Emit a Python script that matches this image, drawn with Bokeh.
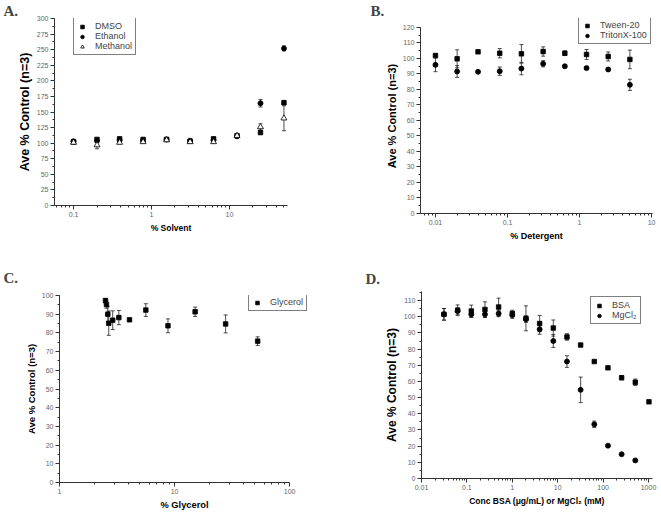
from bokeh.plotting import figure
from bokeh.models import (ColumnDataSource, Whisker, TeeHead, Legend, LegendItem,
                          FixedTicker, SingleIntervalTicker, Range1d)
from bokeh.layouts import column, row
from bokeh.embed import file_html
from bokeh.resources import INLINE

# ---------------- data ----------------
# Panel A: solvents
a_x = [0.1, 0.2, 0.39, 0.78, 1.56, 3.13, 6.25, 12.5, 25, 50]
a_dmso = [102, 106, 107, 106, 106, 103, 107, 112, 117, 165]
a_dmso_err = [2, 2, 2, 2, 1.5, 2, 2, 1.5, 2, 3]
a_ethanol = [103, 104, 105, 104, 106, 104, 105, 111, 164, 252]
a_ethanol_err = [2, 2, 2, 2, 1.5, 2, 2, 1.5, 6, 4]
a_methanol = [101, 97, 101, 102, 105, 102, 102, 112, 126, 140]
a_methanol_err = [2, 6, 2, 2, 1.5, 2, 2, 1.5, 5, 20]
a_xticks = [0.1, 1, 10]
a_xtick_labels = ["0.1", "1", "10"]

# Panel B: detergents
b_x = [0.01, 0.02, 0.039, 0.078, 0.156, 0.3125, 0.625, 1.25, 2.5, 5]
b_tween = [101.9, 99.8, 104.3, 103.4, 103, 104.5, 103.4, 102.6, 101.3, 99.4]
b_tween_err = [1, 5.8, 1, 3, 6, 3, 1.5, 3.2, 2.9, 6]
b_triton = [95.9, 91.6, 91.4, 91.8, 93.5, 96.6, 95, 93.8, 92.9, 83]
b_triton_err = [4.4, 3.8, 0.5, 2.7, 4, 2, 1, 1, 1, 3.6]
b_xticks = [0.01, 0.1, 1, 10]
b_xtick_labels = ["0.01", "0.1", "1", "10"]

# Panel C: glycerol
c_x = [2.51, 2.56, 2.63, 2.68, 2.9, 3.28, 4.06, 5.63, 8.77, 15.1, 27.8, 52.8]
c_glycerol = [97.3, 95.2, 90.0, 85.2, 86.8, 88.2, 87.0, 92.2, 83.8, 91.3, 84.8, 75.6]
c_glycerol_err = [1, 2, 4, 6.5, 5, 3.8, 0.5, 3.4, 3.7, 2.5, 4.8, 2.3]
c_xticks = [1, 10, 100]
c_xtick_labels = ["1", "10", "100"]

# Panel D: BSA and MgCl2
d_x = [0.03125, 0.0625, 0.125, 0.25, 0.5, 1, 2, 4, 8, 16, 32, 64, 128, 256, 512, 1024]
d_bsa = [101.5, 104, 103.5, 104.5, 106, 102, 99, 95.8, 93, 87.5, 82.5, 72.3, 68.4, 62.3, 59.5, 47.4]
d_bsa_err = [3.6, 3.3, 3.7, 4.7, 5.5, 2, 7.7, 5, 5, 2, 0.5, 0.5, 0.5, 1.3, 2, 0.5]
d_mg_x = [0.03125, 0.0625, 0.125, 0.25, 0.5, 1, 2, 4, 8, 16, 32, 64, 128, 256, 512]
d_mg = [101.5, 103.5, 101.5, 101.5, 102, 101, 98.5, 92.2, 85, 72.3, 54.8, 33.5, 20.3, 15, 11.2]
d_mg_err = [3.6, 2, 2, 2, 2, 2, 2, 3, 4, 3.6, 7.9, 2, 0.5, 0.5, 0.5]
d_xticks = [0.01, 0.1, 1, 10, 100, 1000]
d_xtick_labels = ["0.01", "0.1", "1", "10", "100", "1000"]

Y_LABEL = "Ave % Control (n=3)"
FONT = "Liberation Sans"
AX = "#333333"


def minor_log(lo_exp, hi_exp):
    return [m * 10.0 ** e for e in range(lo_exp, hi_exp + 1) for m in range(2, 10)]


def make_fig(w, h, xr, yr, ytick, borders, xlabel, xticks, xlabels, minor,
             letter, letter_offset, letter_standoff, xlab_size, ylab_size,
             xbounds="auto", ybounds="auto"):
    l, r, t, b = borders
    p = figure(width=w, height=h, x_axis_type="log",
               x_range=Range1d(*xr), y_range=Range1d(*yr),
               output_backend="svg", toolbar_location=None,
               min_border_left=l, min_border_right=r,
               min_border_top=t, min_border_bottom=b)
    p.xgrid.visible = False
    p.ygrid.visible = False
    p.outline_line_color = None
    p.background_fill_color = "white"
    p.border_fill_color = "white"
    p.title.text = letter
    p.title.align = "left"
    p.title.offset = letter_offset
    p.title.standoff = letter_standoff
    p.title.text_font = "Liberation Serif"
    p.title.text_font_style = "bold"
    p.title.text_font_size = "15px"
    p.xaxis.ticker = FixedTicker(ticks=xticks, minor_ticks=minor)
    p.xaxis.major_label_overrides = {k: v for k, v in zip(xticks, xlabels)}
    p.yaxis.ticker = SingleIntervalTicker(interval=ytick, num_minor_ticks=2)
    p.xaxis.bounds = xbounds
    p.yaxis.bounds = ybounds
    p.xaxis.axis_label = xlabel
    p.yaxis.axis_label = Y_LABEL
    for ax in (p.xaxis[0], p.yaxis[0]):
        ax.axis_line_color = AX
        ax.axis_line_width = 1
        ax.major_tick_line_color = AX
        ax.minor_tick_line_color = AX
        ax.major_tick_out = 4
        ax.major_tick_in = 0
        ax.minor_tick_out = 2
        ax.minor_tick_in = 0
        ax.major_label_text_font = FONT
        ax.major_label_text_font_size = "7px"
        ax.major_label_text_color = "#666666"
        ax.major_label_standoff = 2
        ax.axis_label_text_font = FONT
        ax.axis_label_text_font_style = "bold"
        ax.axis_label_text_color = "black"
    p.xaxis.axis_label_standoff = 3
    p.yaxis.axis_label_standoff = 2
    p.xaxis.axis_label_text_font_size = xlab_size
    p.yaxis.axis_label_text_font_size = ylab_size
    return p


def add_series(p, x, y, err, marker, size, fill="black"):
    src = ColumnDataSource(dict(x=x, y=y,
                                upper=[a + e for a, e in zip(y, err)],
                                lower=[a - e for a, e in zip(y, err)]))
    wh = Whisker(source=src, base="x", upper="upper", lower="lower",
                 dimension="height", line_color="#222222", line_width=0.8)
    wh.upper_head = TeeHead(size=4, line_color="#222222", line_width=0.8)
    wh.lower_head = TeeHead(size=4, line_color="#222222", line_width=0.8)
    p.add_layout(wh)
    r = p.scatter("x", "y", source=src, marker=marker, size=size,
                  fill_color=fill, line_color="black", line_width=0.8)
    return r


def add_legend(p, items, loc):
    lg = Legend(items=[LegendItem(label=lab, renderers=[r]) for lab, r in items],
                location=loc, border_line_color="black", border_line_width=1,
                background_fill_color="white", background_fill_alpha=1.0,
                label_text_font=FONT, label_text_font_size="9px",
                glyph_width=10, glyph_height=9, label_height=9,
                spacing=0, padding=3, label_standoff=8, margin=0)
    p.add_layout(lg)


# ---------------- panel A ----------------
pA = make_fig(330, 256, (0.057, 55.5), (0, 300), 25, (54, 43, 17, 51),
              "% Solvent", a_xticks, a_xtick_labels, minor_log(-2, 1),
              "A.", -51, 0, "8.5px", "12.5px")
rA1 = add_series(pA, a_x, a_dmso, a_dmso_err, "square", 4.5)
rA2 = add_series(pA, a_x, a_ethanol, a_ethanol_err, "circle", 5)
rA3 = add_series(pA, a_x, a_methanol, a_methanol_err, "triangle", 6, fill="white")
add_legend(pA, [("DMSO", rA1), ("Ethanol", rA2), ("Methanol", rA3)], (19, 150))

# ---------------- panel B ----------------
pB = make_fig(330, 256, (0.0062, 10.3), (0, 125.8), 10, (90, 8, 18, 43),
              "% Detergent", b_xticks, b_xtick_labels, minor_log(-3, 1),
              "B.", -50, 0, "9px", "11px", ybounds=(0, 120))
rB1 = add_series(pB, b_x, b_tween, b_tween_err, "square", 4.5)
rB2 = add_series(pB, b_x, b_triton, b_triton_err, "circle", 5)
add_legend(pB, [("Tween-20", rB1), ("TritonX-100", rB2)], (158, 169))

# ---------------- panel C ----------------
pC = make_fig(330, 256, (1, 149), (0, 100), 10, (59, 21, 39, 30),
              "% Glycerol", c_xticks, c_xtick_labels, minor_log(0, 2),
              "C.", -56, 20, "9.3px", "9.5px", xbounds=(1, 100))
rC1 = add_series(pC, c_x, c_glycerol, c_glycerol_err, "square", 4.5)
add_legend(pC, [("Glycerol", rC1)], (189, 171))

# ---------------- panel D ----------------
pD = make_fig(330, 256, (0.01, 1225), (0, 115.6), 10, (91, 8, 35, 34),
              "Conc BSA (\u03bcg/mL) or MgCl\u2082 (mM)", d_xticks, d_xtick_labels,
              minor_log(-2, 3), "D.", -56, 10, "8.5px", "12px")
rD1 = add_series(pD, d_x, d_bsa, d_bsa_err, "square", 4.5)
rD2 = add_series(pD, d_mg_x, d_mg, d_mg_err, "circle", 5)
add_legend(pD, [("BSA", rD1), ("MgCl\u2082", rD2)], (169, 154))

layout = column(row(column(pA), column(pB)), row(column(pC), column(pD)))
open("out.html", "w").write(file_html(layout, INLINE))
